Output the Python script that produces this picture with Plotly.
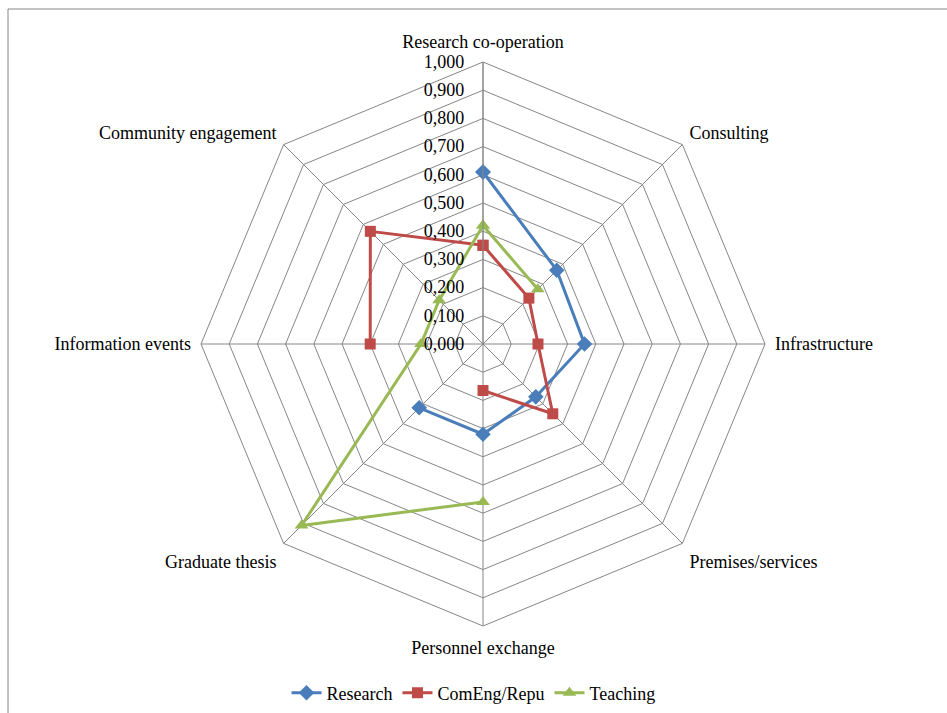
import plotly.graph_objects as go

categories = ["Research co-operation", "Consulting", "Infrastructure", "Premises/services",
              "Personnel exchange", "Graduate thesis", "Information events", "Community engagement"]
research = [0.61, 0.37, 0.36, 0.265, 0.32, 0.32, None, None]
comeng = [0.35, 0.23, 0.195, 0.35, 0.165, None, 0.40, 0.565]
teaching = [0.42, 0.275, None, None, 0.56, 0.91, 0.22, 0.22]
series_names = ["Research", "ComEng/Repu", "Teaching"]
tick_vals = [0.0, 0.1, 0.2, 0.3, 0.4, 0.5, 0.6, 0.7, 0.8, 0.9, 1.0]
tick_text = ["0,000", "0,100", "0,200", "0,300", "0,400", "0,500", "0,600", "0,700", "0,800", "0,900", "1,000"]

colors = ["#4A7EBB", "#BE4B48", "#98B954"]
symbols = ["diamond", "square", "triangle-up"]
sizes = [12, 11, 12]

W, H = 947, 713
cx, cy, R = 483, 344, 282

fig = go.Figure()
for name, vals, col, sym, sz in zip(series_names, [research, comeng, teaching], colors, symbols, sizes):
    fig.add_trace(go.Scatterpolar(
        r=vals + [vals[0]],
        theta=categories + [categories[0]],
        mode="lines+markers",
        name=name,
        connectgaps=False,
        line=dict(color=col, width=3),
        marker=dict(symbol=sym, size=sz, color=col),
    ))

font_family = "Liberation Serif"
fs = 18
fig.update_layout(
    width=W, height=H,
    margin=dict(l=0, r=0, t=0, b=0),
    paper_bgcolor="white",
    font=dict(family=font_family, size=fs, color="black"),
    polar=dict(
        domain=dict(x=[(cx - R) / W, (cx + R) / W], y=[(H - cy - R) / H, (H - cy + R) / H]),
        gridshape="linear",
        bgcolor="white",
        angularaxis=dict(
            type="category",
            categoryarray=categories,
            direction="clockwise",
            rotation=90,
            showline=True, linecolor="#868686", linewidth=1,
            gridcolor="#868686", gridwidth=1,
            ticks="outside", ticklen=6, tickcolor="rgba(0,0,0,0)",
            tickfont=dict(family=font_family, size=fs, color="black"),
        ),
        radialaxis=dict(
            range=[0, 1],
            angle=90,
            tickangle=90,
            side="counterclockwise",
            tickvals=tick_vals,
            ticktext=tick_text,
            showline=True, linecolor="#868686", linewidth=1,
            gridcolor="#868686", gridwidth=1,
            ticks="outside", ticklen=12, tickcolor="rgba(0,0,0,0)",
            tickfont=dict(family=font_family, size=fs, color="black"),
        ),
    ),
    legend=dict(
        orientation="h",
        x=0.5, xanchor="center",
        y=(H - 693) / H, yanchor="middle",
        font=dict(family=font_family, size=fs, color="black"),
    ),
    shapes=[dict(type="rect", xref="paper", yref="paper",
                 x0=8 / W, x1=1.02, y0=-0.02, y1=(H - 9) / H,
                 line=dict(color="#868686", width=1), fillcolor="rgba(0,0,0,0)")],
)

fig.write_html("out.html")
